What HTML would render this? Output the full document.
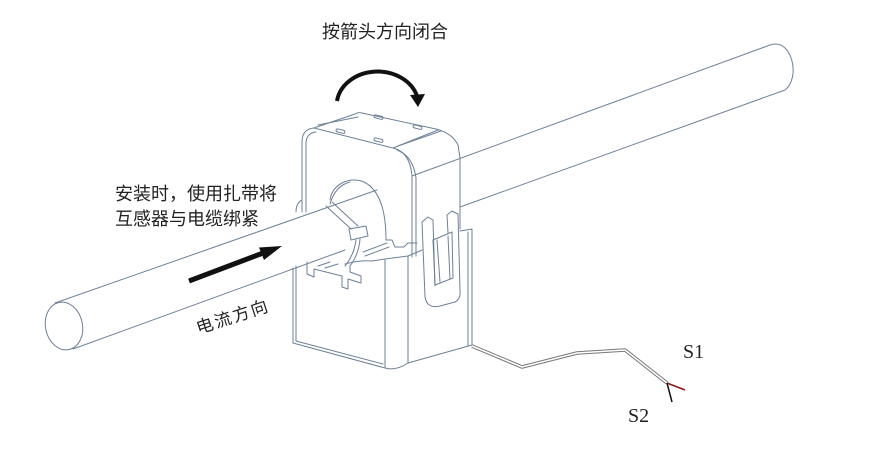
<!DOCTYPE html>
<html><head><meta charset="utf-8"><style>
html,body{margin:0;padding:0;background:#fff;}
svg{display:block;}
.cn{font-family:"Liberation Sans","Noto Sans CJK SC",sans-serif;fill:#222;}
.sr{font-family:"Liberation Serif",serif;fill:#222;}
</style></head><body>
<svg width="875" height="449" viewBox="0 0 875 449" xmlns="http://www.w3.org/2000/svg">
<rect width="875" height="449" fill="#fff"/>
<g fill="none" stroke="#6d8098" stroke-width="1" stroke-linejoin="round" stroke-linecap="round">
<!-- left cable -->
<ellipse cx="64" cy="326" rx="18.5" ry="24" transform="rotate(-12 64 326)"/>
<path d="M55,303 L377,190"/>
<path d="M73,349 L345,250"/>
<!-- right cable -->
<path d="M412,176 L770,45 C792,37 801,78 785,90 L460,207"/>
<!-- upper part front face -->
<path d="M302,212 L302,142 Q302,129 314,128 L393,148 Q410,152 412,176 L412,257"/>
<path d="M306,212 L306,144 Q306,133 316,132"/>
<path d="M397,150 Q413,156 416,178 L416,256"/>
<path d="M296,212 Q296,203 302,200"/>
<!-- top surface -->
<path d="M314,128 L355,114 Q358,112 362,113 L436,129 Q452,133 458,145 L460,158 L460,229"/>
<path d="M318,125 L358,117"/>
<path d="M393,148 L438,130"/>
<path d="M398,146 L441,131"/>
<!-- slots -->
<g transform="rotate(14 340 131)"><rect x="336" y="129.5" width="9" height="3" rx="1.5"/></g>
<g transform="rotate(14 378 117)"><rect x="374" y="115.5" width="9" height="3" rx="1.5"/></g>
<g transform="rotate(14 378 140)"><rect x="374" y="138.5" width="9" height="3" rx="1.5"/></g>
<g transform="rotate(14 417 127)"><rect x="413" y="125.5" width="9" height="3" rx="1.5"/></g>
<!-- hole -->
<path d="M330,200 C332,184 350,176 364,182 C380,190 386,212 386,240"/>
<!-- cable tie -->
<path d="M326,206 L351,229"/>
<path d="M332,202 L358,226"/>
<path d="M330,204 C334,190 342,184 350,182"/>
<path d="M349,229 L366,226 L368,236 L351,240 Z"/>
<path d="M356,240 Q354,255 345,266"/>
<path d="M360,239 Q359,254 350,266"/>
<!-- separation / slot lines -->
<path d="M363,252 L387,243"/>
<path d="M365,256 L389,247"/>
<path d="M386,240 L392,240 L395,247 L404,247 L408,243 L417,243"/>
<path d="M345,264 Q360,260 372,261 L385,259 L408,256 L422,250"/>
<!-- DIN clip -->
<path d="M307,262 L307,274 L314,277 L314,269 L342,276 L342,287 L348,289 L348,279 L361,283 L361,276 L350,272 L350,266"/>
<path d="M318,266 L330,262 M325,268 L338,264"/>
<!-- lower box -->
<path d="M293,268 L293,343 L385,368 Q396,371 408,363 L472,345 L472,229 L460,231"/>
<path d="M296,266 L296,341 L383,364"/>
<path d="M385,260 L385,368"/>
<path d="M408,256 L408,363"/>
<path d="M468,232 L468,346"/>
<!-- latch -->
<path d="M422,222 L425,297 Q427,309 440,306 L455,302 Q461,299 460,290 L458,214 L452,211 L447,215 L448,233"/>
<path d="M422,222 L428,217 L433,220 L435,286"/>
<path d="M433,240 L452,232 L453,278 L435,285 Z"/>
<path d="M437,240 L440,282 M448,236 L450,279"/>
</g>
<!-- wire -->
<g fill="none" stroke-linejoin="round">
<path d="M472,346 L522,367 L577,353 L625,350 L667,383" stroke="#777" stroke-width="3.6"/>
<path d="M472,346 L522,367 L577,353 L625,350 L667,383" stroke="#fff" stroke-width="1.6"/>
<path d="M667,383 L685,390" stroke="#8b1a1a" stroke-width="1.5"/>
<path d="M667,383 L672,402" stroke="#111" stroke-width="1.5"/>
</g>
<!-- curved arrow -->
<path d="M337,101 A41 34 0 0 1 417,96" fill="none" stroke="#111" stroke-width="4"/>
<polygon points="410,95 425,94 418,107" fill="#111"/>
<!-- straight arrow -->
<line x1="189" y1="281" x2="263" y2="253" stroke="#111" stroke-width="5"/>
<polygon points="282,246 259,247.5 264,260" fill="#111"/>
<!-- texts -->
<text class="cn" x="322" y="38" font-size="18">按箭头方向闭合</text>
<text class="cn" x="115" y="200" font-size="18">安装时，使用扎带将</text>
<text class="cn" x="115" y="225" font-size="18">互感器与电缆绑紧</text>
<text class="cn" x="0" y="0" font-size="17" letter-spacing="2" text-anchor="middle" dominant-baseline="central" transform="translate(233 317) rotate(-18)">电流方向</text>
<text class="sr" x="683" y="358" font-size="20">S1</text>
<text class="sr" x="628" y="422" font-size="20">S2</text>
</svg>
</body></html>
